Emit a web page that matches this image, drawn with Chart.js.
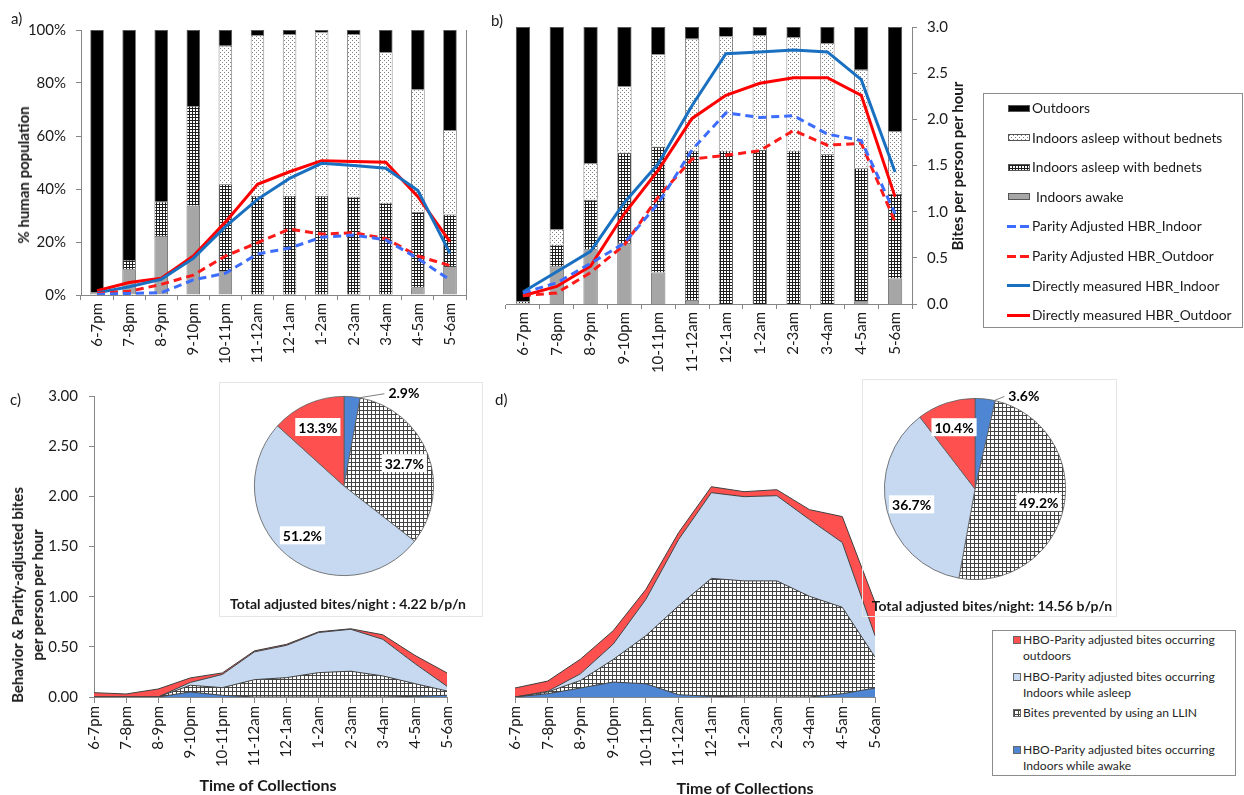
<!DOCTYPE html>
<html><head><meta charset="utf-8">
<script src="https://cdn.jsdelivr.net/npm/chart.js"></script>
<style>
body{margin:0;background:#fff;}
#wrap{position:relative;width:1244px;height:795px;overflow:hidden;font-family:Lato,sans-serif;color:#1a1a1a;background:#fff;}
canvas{position:absolute;}
.t{position:absolute;white-space:nowrap;}
.rot{transform:translate(-50%,-50%) rotate(-90deg);text-align:center;}
.ctr{transform:translate(-50%,-50%);}
.b{font-weight:bold;}
.box{position:absolute;box-sizing:border-box;}
.leg{position:absolute;box-sizing:border-box;border:1px solid #8c8c8c;background:#fff;}
.li{position:absolute;white-space:nowrap;}
.sw{position:absolute;box-sizing:border-box;}
</style></head><body><div id="wrap">
<canvas id="ca" width="480" height="375" style="left:0;top:0"></canvas>
<canvas id="cb" width="490" height="380" style="left:480px;top:0"></canvas>
<canvas id="cc" width="480" height="420" style="left:0;top:375px"></canvas>
<canvas id="cd" width="500" height="420" style="left:480px;top:375px"></canvas>
<div class="box" style="left:219px;top:382px;width:264px;height:235px;border:1px solid #e6e6e6;"></div>
<div class="box" style="left:862px;top:379px;width:255px;height:238px;border:1px solid #e6e6e6;"></div>
<canvas id="pc" width="264" height="235" style="left:219px;top:382px"></canvas>
<canvas id="pd" width="255" height="238" style="left:862px;top:379px"></canvas>
<div class="t" style="left:11px;top:9px;font-size:15px;">a)</div>
<div class="t" style="left:491px;top:11px;font-size:15px;">b)</div>
<div class="t" style="left:10px;top:390px;font-size:15px;">c)</div>
<div class="t" style="left:495px;top:390px;font-size:15px;">d)</div>
<div class="t rot b" style="left:23px;top:175px;font-size:15px;">% human population</div>
<div class="t rot b" style="left:957px;top:166px;font-size:15px;">Bites per person per hour</div>
<div class="t rot b" style="left:27px;top:595px;font-size:15px;line-height:20px;">Behavior &amp; Parity-adjusted bites<br>per person per hour</div>
<div class="t ctr b" style="left:268px;top:784px;font-size:16px;">Time of Collections</div>
<div class="t ctr b" style="left:745px;top:787px;font-size:16px;">Time of Collections</div>
<div class="t ctr b" style="left:348px;top:603px;font-size:14px;">Total adjusted bites/night : 4.22 b/p/n</div>
<div class="t ctr b" style="left:992px;top:605px;font-size:14px;">Total adjusted bites/night: 14.56 b/p/n</div>
<div id="leg1" class="leg" style="left:983px;top:93px;width:260px;height:235px;"></div>
<div id="leg2" class="leg" style="left:992px;top:630px;width:244px;height:146px;"></div>
</div>
<script>
// ---------- data ----------
const hours = ['6-7pm','7-8pm','8-9pm','9-10pm','10-11pm','11-12am','12-1am','1-2am','2-3am','3-4am','4-5am','5-6am'];

// panel a: % of human population
const aIndoorsAwake   = [1, 9.7, 22.3, 33.7, 9, 0, 0, 0, 0, 0, 2.9, 10.9];
const aAsleepBednet   = [0, 3.5, 12.9, 37.6, 32.8, 37.4, 37.4, 37.4, 37.1, 34.8, 28.4, 19.5];
const aAsleepNoBednet = [0, 0, 0, 0, 52.3, 60.7, 61.1, 61.7, 61.4, 56.8, 46.3, 31.9];
const aOutdoors       = [99, 86.8, 64.8, 28.7, 5.9, 1.9, 1.5, 0.9, 1.5, 8.4, 22.4, 37.7];
const aParityIndoor   = [0.2, 0.6, 0.9, 5.7, 8.2, 15.5, 17.7, 21.8, 22.6, 20.8, 13.8, 5.7];
const aParityOutdoor  = [0.6, 1.4, 4.0, 7.5, 14.7, 19.7, 24.9, 23.0, 23.5, 21.3, 14.7, 11.1];
const aDirectIndoor   = [0.8, 3.1, 5.9, 13.8, 25.8, 36.1, 44.0, 49.7, 48.9, 47.8, 39.4, 15.7];
const aDirectOutdoor  = [1.6, 4.7, 6.3, 14.7, 27.5, 41.8, 46.5, 50.7, 50.4, 50.1, 37.1, 20.1];

// panel b
const bIndoorsAwake   = [0.3, 13.6, 19.8, 22.0, 11.4, 1.2, 0, 0, 0, 0, 1.0, 9.2];
const bAsleepBednet   = [0.7, 7.8, 17.8, 32.6, 45.4, 54.1, 55.3, 55.6, 55.3, 54.1, 48.0, 30.5];
const bAsleepNoBednet = [0, 5.6, 13.2, 24.0, 33.4, 40.5, 41.3, 41.4, 41.1, 40.1, 35.6, 22.7];
const bOutdoors       = [99, 73.0, 49.2, 21.4, 9.8, 4.2, 3.4, 3.0, 3.6, 5.8, 15.4, 37.6];
const bParityIndoor   = [0.12, 0.23, 0.44, 0.66, 1.09, 1.67, 2.07, 2.02, 2.04, 1.84, 1.77, 0.98];
const bParityOutdoor  = [0.09, 0.12, 0.34, 0.64, 1.16, 1.57, 1.61, 1.66, 1.88, 1.72, 1.74, 0.89];
const bDirectIndoor   = [0.13, 0.35, 0.57, 1.10, 1.52, 2.15, 2.71, 2.73, 2.75, 2.73, 2.43, 1.43];
const bDirectOutdoor  = [0.09, 0.19, 0.41, 0.98, 1.45, 2.01, 2.26, 2.39, 2.45, 2.45, 2.26, 1.16];
const bRightTicks     = [0, 0.5, 1.0, 1.5, 2.0, 2.5, 3.0];

// panel c (stacked, bites per person per hour)
const cAwake   = [0, 0, 0, 0.05, 0.017, 0, 0, 0, 0, 0, 0.007, 0.017];
const cLLIN    = [0, 0, 0, 0.067, 0.076, 0.173, 0.193, 0.243, 0.257, 0.21, 0.126, 0.043];
const cAsleep  = [0, 0, 0, 0.028, 0.132, 0.277, 0.322, 0.40, 0.418, 0.365, 0.20, 0.047];
const cOutdoor = [0.043, 0.03, 0.08, 0.045, 0.015, 0.01, 0.01, 0.007, 0.005, 0.045, 0.082, 0.133];

// panel d
const dAwake   = [0, 0.033, 0.09, 0.15, 0.133, 0.023, 0.007, 0, 0, 0, 0.033, 0.09];
const dLLIN    = [0, 0.017, 0.076, 0.226, 0.482, 0.892, 1.183, 1.165, 1.165, 1.01, 0.867, 0.31];
const dAsleep  = [0, 0.007, 0.067, 0.154, 0.365, 0.665, 0.86, 0.845, 0.855, 0.77, 0.65, 0.215];
const dOutdoor = [0.09, 0.103, 0.147, 0.135, 0.10, 0.07, 0.06, 0.05, 0.06, 0.10, 0.26, 0.335];

// pies (%)
const pieLabels = ['HBO-Parity adjusted bites occurring Indoors while awake','Bites prevented by using an LLIN','HBO-Parity adjusted bites occurring Indoors while asleep','HBO-Parity adjusted bites occurring outdoors'];
const pieC = [2.9, 32.7, 51.2, 13.3];
const pieD = [3.6, 49.2, 36.7, 10.4];

// ---------- styles ----------
Chart.defaults.font.family = 'Lato, sans-serif';
Chart.defaults.font.size = 15;
Chart.defaults.color = '#1a1a1a';
Chart.defaults.animation = false;
Chart.defaults.plugins.legend.display = false;
Chart.defaults.plugins.tooltip.enabled = false;

function pat(size, fn){const c=document.createElement('canvas');c.width=c.height=size;const g=c.getContext('2d');g.fillStyle='#fff';g.fillRect(0,0,size,size);fn(g);return c;}
const dotsC = pat(4, g=>{g.fillStyle='#808080';g.fillRect(0,0,1,1);g.fillRect(2,2,1,1);});
const meshC = pat(3, g=>{g.fillStyle='#1e1e1e';g.fillRect(0,0,3,1);g.fillRect(0,0,1,3);});
const gridC = pat(4, g=>{g.fillStyle='#444444';g.fillRect(0,0,4,1);g.fillRect(0,0,1,4);});
const tmp = document.createElement('canvas').getContext('2d');
const dotsP = tmp.createPattern(dotsC,'repeat');
const meshP = tmp.createPattern(meshC,'repeat');
const gridP = tmp.createPattern(gridC,'repeat');

const AX = '#868686';
const colBlack = '#000000', colGray = '#a6a6a6';
const colParIn = '#3d6dff', colParOut = '#ff1a1a', colDirIn = '#1a70c0', colDirOut = '#ff0000';
const colRed = '#ff5050', colLight = '#c6d9f1', colBlue = '#4f86d3';

function lineDs(label, data, color, dashed, axis){
  return {type:'line', label, data, yAxisID:axis, borderColor:color, borderWidth:3, borderDash: dashed?[8,5]:[],
    pointRadius:0, fill:false, tension:0, order:0};
}
function barDs(label, data, bg){
  return {label, data, backgroundColor:bg, borderColor:'#4a4a4a', borderWidth:0.8, yAxisID:'y', order:1,
    barPercentage:0.42, categoryPercentage:1};
}
const xBarAxis = (h)=>({stacked:true, grid:{display:true, drawOnChartArea:false, offset:true, tickLength:5, color:AX},
  border:{color:AX}, ticks:{minRotation:90, maxRotation:90, autoSkip:false, padding:3, font:{size:15}},
  afterFit(s){s.height=h;}});

// ---------- panel a ----------
new Chart(document.getElementById('ca'), {
  type:'bar',
  data:{labels:hours, datasets:[
    lineDs('Parity Adjusted HBR_Indoor', aParityIndoor, colParIn, true, 'yR'),
    lineDs('Parity Adjusted HBR_Outdoor', aParityOutdoor, colParOut, true, 'yR'),
    lineDs('Directly measured HBR_Indoor', aDirectIndoor, colDirIn, false, 'yR'),
    lineDs('Directly measured HBR_Outdoor', aDirectOutdoor, colDirOut, false, 'yR'),
    barDs('Indoors awake', aIndoorsAwake, colGray),
    barDs('Indoors asleep with bednets', aAsleepBednet, meshP),
    barDs('Indoors asleep without bednets', aAsleepNoBednet, dotsP),
    barDs('Outdoors', aOutdoors, colBlack)
  ]},
  options:{responsive:false, layout:{padding:{top:30,left:0,right:0,bottom:0}},
    scales:{
      x: xBarAxis(80),
      y:{stacked:true, min:0, max:100, ticks:{stepSize:20, padding:10, callback:v=>v+'%'},
         grid:{drawOnChartArea:false, tickLength:5, color:AX}, border:{color:AX}, afterFit(s){s.width=81;}},
      yR:{position:'right', min:0, max:100, stacked:false, ticks:{display:false}, grid:{display:false},
         border:{color:AX}, afterFit(s){s.width=14;}}
    }}
});

// ---------- panel b ----------
new Chart(document.getElementById('cb'), {
  type:'bar',
  data:{labels:hours, datasets:[
    lineDs('Parity Adjusted HBR_Indoor', bParityIndoor, colParIn, true, 'yR'),
    lineDs('Parity Adjusted HBR_Outdoor', bParityOutdoor, colParOut, true, 'yR'),
    lineDs('Directly measured HBR_Indoor', bDirectIndoor, colDirIn, false, 'yR'),
    lineDs('Directly measured HBR_Outdoor', bDirectOutdoor, colDirOut, false, 'yR'),
    barDs('Indoors awake', bIndoorsAwake, colGray),
    barDs('Indoors asleep with bednets', bAsleepBednet, meshP),
    barDs('Indoors asleep without bednets', bAsleepNoBednet, dotsP),
    barDs('Outdoors', bOutdoors, colBlack)
  ]},
  options:{responsive:false, layout:{padding:{top:27,left:26,right:0,bottom:0}},
    scales:{
      x: xBarAxis(76),
      y:{display:false, stacked:true, min:0, max:100},
      yR:{position:'right', min:0, max:3, stacked:false,
         afterBuildTicks(s){s.ticks = bRightTicks.map(v=>({value:v}));},
         ticks:{padding:10, callback:v=>Number(v).toFixed(1)},
         grid:{drawOnChartArea:false, tickLength:5, color:AX}, border:{color:AX}, afterFit(s){s.width=58;}}
    }}
});

// ---------- panels c, d ----------
function areaDs(label, data, bg, fill){
  return {label, data, backgroundColor:bg, borderColor:'#404040', borderWidth:1, fill, pointRadius:0, tension:0};
}
function areaCfg(aw, ll, as, ou, showY, yW, pad){
  return {
    type:'line',
    data:{labels:hours, datasets:[
      areaDs('HBO-Parity adjusted bites occurring Indoors while awake', aw, colBlue, 'origin'),
      areaDs('Bites prevented by using an LLIN', ll, gridP, '-1'),
      areaDs('HBO-Parity adjusted bites occurring Indoors while asleep', as, colLight, '-1'),
      areaDs('HBO-Parity adjusted bites occurring outdoors', ou, colRed, '-1')
    ]},
    options:{responsive:false, layout:{padding:pad},
      scales:{
        x:{offset:false, grid:{display:true, drawOnChartArea:false, offset:false, tickLength:6, color:AX}, border:{color:AX},
           ticks:{minRotation:90, maxRotation:90, autoSkip:false, padding:3, font:{size:15}}, afterFit(s){s.height=98;}},
        y:{display:showY, stacked:true, min:0, max:3, ticks:{stepSize:0.5, padding:11, callback:v=>Number(v).toFixed(2)},
           grid:{drawOnChartArea:false, tickLength:5, color:AX}, border:{color:AX}, afterFit(s){s.width=yW;}}
      }}
  };
}
new Chart(document.getElementById('cc'), areaCfg(cAwake, cLLIN, cAsleep, cOutdoor, true, 94, {top:21,right:33,left:0,bottom:0}));
new Chart(document.getElementById('cd'), areaCfg(dAwake, dLLIN, dAsleep, dOutdoor, false, 0, {top:23,right:105,left:35,bottom:0}));

// ---------- pies ----------
const pieLabelPlugin = {
  id:'pieLabels',
  afterDatasetsDraw(chart, args, opts){
    const ctx = chart.ctx, meta = chart.getDatasetMeta(0), data = chart.data.datasets[0].data;
    ctx.save(); ctx.font = 'bold 14px Lato, sans-serif'; ctx.textBaseline = 'middle';
    meta.data.forEach((arc,i)=>{
      const p = arc.getProps(['x','y','startAngle','endAngle','outerRadius'], true);
      const txt = data[i].toFixed(1)+'%';
      const w = ctx.measureText(txt).width;
      if (data[i] < 5) {
        const a = p.startAngle + 0.95*(p.endAngle-p.startAngle);
        const x0 = p.x + Math.cos(a)*p.outerRadius, y0 = p.y + Math.sin(a)*p.outerRadius;
        const x1 = x0 + opts.leader, y1 = y0 - 4;
        ctx.strokeStyle = '#7f7f7f'; ctx.lineWidth = 1;
        ctx.beginPath(); ctx.moveTo(x0,y0); ctx.lineTo(x1,y1); ctx.stroke();
        ctx.fillStyle = '#000'; ctx.textAlign = 'left'; ctx.fillText(txt, x1+4, y1);
      } else {
        const a = (p.startAngle+p.endAngle)/2, rr = p.outerRadius*opts.factor;
        const cx = p.x + Math.cos(a)*rr, cy = p.y + Math.sin(a)*rr;
        ctx.fillStyle = '#fff'; ctx.fillRect(cx-w/2-3, cy-9, w+6, 18);
        ctx.fillStyle = '#000'; ctx.textAlign = 'center'; ctx.fillText(txt, cx, cy+1);
      }
    });
    ctx.restore();
  }
};
function pieCfg(vals, pad, leader){
  return {type:'pie', data:{labels:pieLabels, datasets:[{data:vals, backgroundColor:[colBlue, gridP, colLight, colRed],
      borderColor:'#5a5a5a', borderWidth:0.8}]},
    options:{responsive:false, layout:{padding:pad}, plugins:{pieLabels:{leader, factor:0.72}}},
    plugins:[pieLabelPlugin]};
}
new Chart(document.getElementById('pc'), pieCfg(pieC, {left:35,top:14,right:49,bottom:41}, 25));
new Chart(document.getElementById('pd'), pieCfg(pieD, {left:22,top:19,right:51,bottom:37}, 10));

// ---------- legends ----------
const leg1 = [
  {label:'Outdoors', kind:'box', bg:colBlack},
  {label:'Indoors asleep without bednets', kind:'box', img:dotsC},
  {label:'Indoors asleep with bednets', kind:'box', img:meshC},
  {label:'Indoors awake', kind:'box', bg:colGray, gap:4},
  {label:'Parity Adjusted HBR_Indoor', kind:'dash', color:colParIn},
  {label:'Parity Adjusted HBR_Outdoor', kind:'dash', color:colParOut},
  {label:'Directly measured HBR_Indoor', kind:'line', color:colDirIn},
  {label:'Directly measured HBR_Outdoor', kind:'line', color:colDirOut}
];
const L1 = document.getElementById('leg1');
leg1.forEach((it,i)=>{
  const cy = 14 + i*29.6;
  const sw = document.createElement('div'); sw.className='sw';
  if (it.kind==='box') {
    sw.style.cssText = `left:24px;top:${cy-3.5}px;width:22px;height:7px;border:1px solid #555;` +
      (it.img ? `background-image:url(${it.img.toDataURL()});` : `background:${it.bg};`);
  } else if (it.kind==='dash') {
    sw.style.cssText = `left:23px;top:${cy-1.5}px;width:22px;height:3px;background:repeating-linear-gradient(90deg, ${it.color} 0 9px, transparent 9px 13px);`;
  } else {
    sw.style.cssText = `left:23px;top:${cy-1.5}px;width:23px;height:3px;background:${it.color};`;
  }
  L1.appendChild(sw);
  const tx = document.createElement('div'); tx.className='li';
  tx.style.cssText = `left:${48+(it.gap||0)}px;top:${cy-9}px;font-size:13.8px;line-height:18px;color:#1a1a1a;`;
  tx.textContent = it.label; L1.appendChild(tx);
});
const leg2 = [
  {lines:['HBO-Parity adjusted bites occurring','outdoors'], bg:colRed, y:9},
  {lines:['HBO-Parity adjusted bites occurring','Indoors while asleep'], bg:colLight, y:46},
  {lines:['Bites prevented by using an LLIN'], img:gridC, y:82},
  {lines:['HBO-Parity adjusted bites occurring','Indoors while awake'], bg:colBlue, y:119}
];
const L2 = document.getElementById('leg2');
leg2.forEach(it=>{
  const sw = document.createElement('div'); sw.className='sw';
  sw.style.cssText = `left:20px;top:${it.y-4}px;width:8px;height:8px;border:1px solid #666;` +
    (it.img ? `background-image:url(${it.img.toDataURL()});` : `background:${it.bg};`);
  L2.appendChild(sw);
  const tx = document.createElement('div'); tx.className='li';
  tx.style.cssText = `left:30px;top:${it.y-8.5}px;font-size:12.1px;line-height:16.5px;color:#262626;`;
  tx.innerHTML = it.lines.join('<br>'); L2.appendChild(tx);
});
</script>
</body></html>
